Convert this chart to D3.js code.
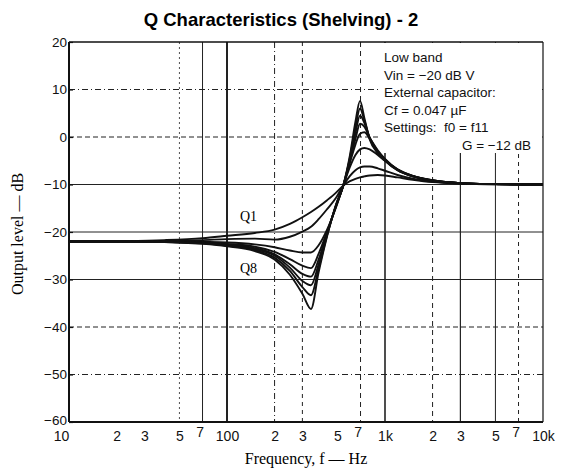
<!DOCTYPE html>
<html>
<head>
<meta charset="utf-8">
<script src="https://cdn.jsdelivr.net/npm/d3@7"></script>
<style>
  html, body { margin: 0; padding: 0; background: #fff; }
  svg { display: block; }
</style>
</head>
<body>
<svg id="chart" width="561" height="472"></svg>
<script>
// ---------- data ----------
const freqs = [10, 20, 40, 70, 100, 150, 200, 250, 300, 340, 380, 430, 490, 545, 600, 650, 695, 740, 800, 900, 1000, 1200, 1500, 2000, 3000, 5000, 10000];

const q1 = [-22.0, -21.9, -21.7, -21.3, -20.8, -20.2, -19.5, -18.3, -16.9, -15.8, -14.7, -13.3, -11.7, -10.2, -9.3, -8.8, -8.5, -8.3, -8.1, -8.0, -8.1, -8.5, -9.0, -9.5, -9.8, -9.95, -10.0];
const q2 = [-22.0, -22.0, -21.9, -21.7, -21.5, -21.4, -21.6, -21.0, -19.9, -18.9, -17.3, -15.2, -12.8, -10.2, -8.2, -7.0, -6.4, -6.2, -6.2, -6.6, -7.1, -8.0, -8.8, -9.4, -9.8, -9.95, -10.0];
const q3 = [-22.0, -22.0, -22.0, -22.1, -22.2, -22.6, -23.2, -23.9, -24.3, -24.3, -22.8, -19.5, -14.8, -10.2, -6.3, -3.8, -2.6, -2.3, -2.6, -3.8, -5.0, -6.8, -8.2, -9.1, -9.7, -9.9, -10.0];
const q4 = [-22.0, -22.0, -22.05, -22.2, -22.5, -23.1, -24.2, -25.7, -27.1, -27.6, -24.6, -19.9, -14.6, -10.2, -5.4, -1.6, 0.7, 1.0, -0.3, -2.8, -4.6, -6.8, -8.2, -9.1, -9.7, -9.9, -10.0];
const q5 = [-22.0, -22.0, -22.05, -22.3, -22.6, -23.4, -24.7, -26.8, -28.8, -29.4, -25.8, -20.2, -14.5, -10.2, -5.0, -0.4, 2.8, 2.2, -0.1, -3.0, -4.7, -6.9, -8.2, -9.1, -9.7, -9.9, -10.0];
const q6 = [-22.0, -22.0, -22.1, -22.3, -22.8, -23.6, -25.0, -27.5, -30.3, -31.2, -26.8, -20.5, -14.4, -10.2, -4.6, 0.8, 4.5, 3.0, -0.2, -3.2, -4.8, -6.9, -8.3, -9.2, -9.7, -9.9, -10.0];
const q7 = [-22.0, -22.0, -22.1, -22.4, -22.9, -23.8, -25.4, -28.2, -31.6, -33.3, -27.7, -20.7, -14.3, -10.1, -4.3, 2.0, 6.0, 3.5, -0.3, -3.3, -4.9, -7.0, -8.3, -9.2, -9.7, -9.9, -10.0];
const q8 = [-22.0, -22.0, -22.1, -22.5, -23.0, -24.0, -25.8, -29.0, -33.0, -36.2, -28.5, -20.9, -14.2, -10.1, -3.8, 3.2, 7.6, 4.0, -0.5, -3.4, -5.0, -7.0, -8.3, -9.2, -9.7, -9.9, -10.0];

const seriesNames = ["Q1", "Q2", "Q3", "Q4", "Q5", "Q6", "Q7", "Q8"];
const seriesValues = [q1, q2, q3, q4, q5, q6, q7, q8];

const yTicks = [20, 10, 0, -10, -20, -30, -40, -50, -60];
const xTickVals = [10, 20, 30, 50, 70, 100, 200, 300, 500, 700, 1000, 2000, 3000, 5000, 7000, 10000];
const xTickLabels = ["10", "2", "3", "5", "7", "100", "2", "3", "5", "7", "1k", "2", "3", "5", "7", "10k"];

const titleText = "Q Characteristics (Shelving) - 2";
const xTitle = "Frequency, f \u2014 Hz";
const yTitle = "Output level \u2014 dB";
const noteLines = ["Low band", "Vin = \u221220 dB V", "External capacitor:", "Cf = 0.047 \u00b5F", "Settings:\u00a0\u00a0f0 = f11"];
const noteLast = "G = \u221212 dB";

// ---------- layout ----------
const svg = d3.select("#chart");
const L = 69, R = 543, T = 42, B = 422;

const x = d3.scaleLog().domain([10, 10000]).range([L, R]);
const y = d3.scaleLinear().domain([-60, 20]).range([B, T]);

// title
svg.append("text")
  .attr("x", 281).attr("y", 26)
  .attr("text-anchor", "middle")
  .style("font-family", "Liberation Sans, Arial, sans-serif")
  .style("font-weight", "bold")
  .style("font-size", "18.5px")
  .text(titleText);

// horizontal grid
const hStyle = { 10: "6,3,1,3", 0: "5,3", "-40": "5,3", "-50": "6,3,1,3" };
svg.append("g").selectAll("line").data(yTicks.filter(d => d !== 20 && d !== -60)).join("line")
  .attr("x1", L).attr("x2", R)
  .attr("y1", d => y(d)).attr("y2", d => y(d))
  .attr("stroke", "#222").attr("stroke-width", 1)
  .attr("stroke-dasharray", d => hStyle[d] || null);

// vertical grid
const vGrid = [
  { f: 50, dash: "2,3", w: 0.8 },
  { f: 70, dash: null, w: 1 },
  { f: 100, dash: null, w: 2 },
  { f: 200, dash: "6,3,1,3", w: 1 },
  { f: 300, dash: "4,4", w: 1 },
  { f: 700, dash: "5,4", w: 1 },
  { f: 1000, dash: null, w: 1.6 },
  { f: 2000, dash: "5,4", w: 1 },
  { f: 3000, dash: null, w: 1.2 },
  { f: 5000, dash: null, w: 1 },
  { f: 7000, dash: "4,4", w: 1 }
];
svg.append("g").selectAll("line").data(vGrid).join("line")
  .attr("x1", d => x(d.f)).attr("x2", d => x(d.f))
  .attr("y1", T).attr("y2", B)
  .attr("stroke", "#222").attr("stroke-width", d => d.w)
  .attr("stroke-dasharray", d => d.dash);

// annotation background box
svg.append("rect").attr("x", 378).attr("y", T + 1).attr("width", R - 378 - 1).attr("height", 110)
  .attr("fill", "#fff");

// frame
svg.append("line").attr("x1", L).attr("x2", R).attr("y1", T).attr("y2", T).attr("stroke", "#111").attr("stroke-width", 1.4);
svg.append("line").attr("x1", R).attr("x2", R).attr("y1", T).attr("y2", B).attr("stroke", "#111").attr("stroke-width", 1.2);
svg.append("line").attr("x1", L).attr("x2", R).attr("y1", B).attr("y2", B).attr("stroke", "#111").attr("stroke-width", 2);
svg.append("line").attr("x1", L).attr("x2", L).attr("y1", T).attr("y2", B).attr("stroke", "#111").attr("stroke-width", 2);

// y axis ticks & labels
const yAxis = d3.axisLeft(y).tickValues(yTicks).tickSize(-4).tickPadding(2).tickFormat(d3.format("d"));
const gy = svg.append("g").attr("transform", `translate(${L},0)`).call(yAxis);
gy.select(".domain").remove();
gy.selectAll("line").attr("stroke", "#111").attr("stroke-width", 1.2);
gy.selectAll("text")
  .style("font-family", "Liberation Sans, Arial, sans-serif")
  .style("font-size", "13.5px").attr("fill", "#111")
  .attr("dy", d => (d === -60 ? "0.2em" : "0.32em"));

// x axis labels
const xAxis = d3.axisBottom(x).tickValues(xTickVals).tickSize(0).tickPadding(9)
  .tickFormat((d, i) => xTickLabels[i]);
const gx = svg.append("g").attr("transform", `translate(0,${B})`).call(xAxis);
gx.select(".domain").remove();
gx.selectAll("text")
  .style("font-family", "Liberation Sans, Arial, sans-serif")
  .style("font-size", "14px").attr("fill", "#111")
  .attr("dx", (d, i) => (i === 0 ? -8 : (xTickLabels[i] === "7" ? -3 : 0)))
  .attr("dy", (d, i) => (xTickLabels[i] === "7" ? "0.45em" : "0.71em"));

// axis titles
svg.append("text").attr("x", 306).attr("y", 464).attr("text-anchor", "middle")
  .style("font-family", "Liberation Serif, Times New Roman, serif").style("font-size", "16px")
  .text(xTitle);
svg.append("text").attr("transform", "translate(23,234) rotate(-90)").attr("text-anchor", "middle")
  .style("font-family", "Liberation Serif, Times New Roman, serif").style("font-size", "16px")
  .text(yTitle);

// curves
const line = d3.line()
  .x((d, i) => x(freqs[i]))
  .y(d => y(d))
  .curve(d3.curveMonotoneX);
svg.append("g").selectAll("path").data(seriesValues).join("path")
  .attr("d", d => line(d))
  .attr("fill", "none")
  .attr("stroke", "#111")
  .attr("stroke-width", 1.9)
  .attr("stroke-linejoin", "round");

// curve labels
svg.append("text").attr("x", 240).attr("y", 221)
  .style("font-family", "Liberation Serif, Times New Roman, serif").style("font-size", "14px")
  .text(seriesNames[0]);
svg.append("text").attr("x", 240).attr("y", 273)
  .style("font-family", "Liberation Serif, Times New Roman, serif").style("font-size", "14px")
  .text(seriesNames[7]);

// annotation
const note = svg.append("g")
  .style("font-family", "Liberation Sans, Arial, sans-serif")
  .style("font-size", "13.5px").attr("fill", "#111");
noteLines.forEach((t, i) => {
  note.append("text").attr("x", 384).attr("y", 62 + i * 17.5).text(t);
});
note.append("text").attr("x", 531).attr("y", 62 + 5 * 17.5).attr("text-anchor", "end").text(noteLast);
</script>
</body>
</html>
